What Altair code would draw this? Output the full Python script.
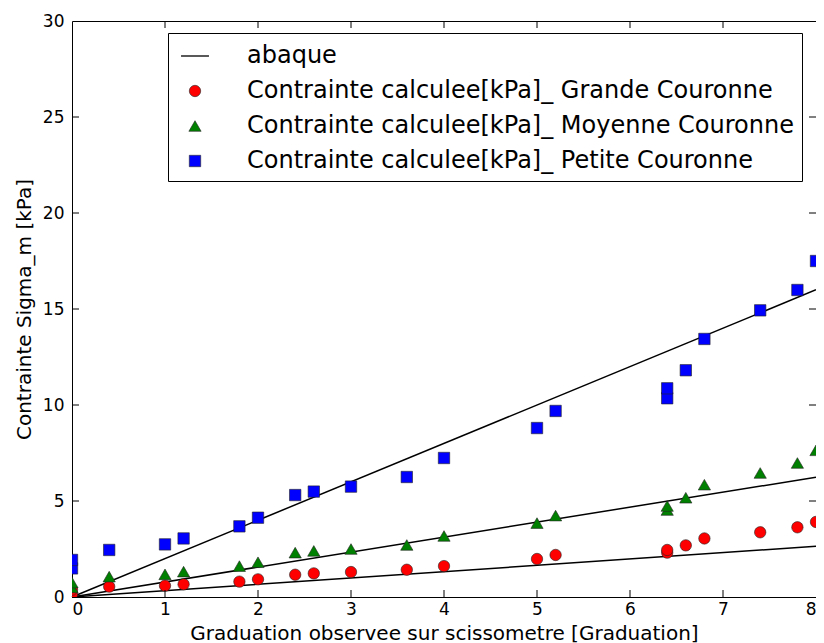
import altair as alt
import pandas as pd

# ---- data ----
x_grad = [0, 0, 0.4, 1, 1.2, 1.8, 2, 2.4, 2.6, 3, 3.6, 4, 5, 5.2, 6.4, 6.4, 6.6, 6.8, 7.4, 7.8, 8]
grande = [0.15, 0.38, 0.54, 0.59, 0.66, 0.80, 0.92, 1.16, 1.23, 1.30, 1.42, 1.61, 1.98, 2.19, 2.31, 2.45, 2.69, 3.05, 3.37, 3.63, 3.91]
moyenne = [0.50, 0.75, 1.06, 1.18, 1.32, 1.61, 1.81, 2.31, 2.40, 2.50, 2.71, 3.18, 3.85, 4.24, 4.53, 4.74, 5.17, 5.85, 6.46, 6.98, 7.64]
petite = [1.49, 1.93, 2.45, 2.74, 3.05, 3.68, 4.13, 5.31, 5.49, 5.75, 6.25, 7.24, 8.80, 9.69, 10.35, 10.87, 11.81, 13.44, 14.93, 15.99, 17.50]

abaque_x = [0, 8]
abaque_grande = [0, 2.64]
abaque_moyenne = [0, 6.24]
abaque_petite = [0, 16.0]

names = [
    "abaque",
    "Contrainte calculee[kPa]_ Grande Couronne",
    "Contrainte calculee[kPa]_ Moyenne Couronne",
    "Contrainte calculee[kPa]_ Petite Couronne",
]
colors = ["black", "#ff0000", "#008000", "#0000ff"]
shapes = ["stroke", "circle", "triangle-up", "square"]

x_ticks = [1, 2, 3, 4, 5, 6, 7]
y_ticks = [5, 10, 15, 20, 25]

# ---- tables ----
rows = []
for name, vals in zip(names[1:], [grande, moyenne, petite]):
    for xv, yv in zip(x_grad, vals):
        rows.append({"x": xv, "y": yv, "serie": name})
df_pts = pd.DataFrame(rows)

lrows = []
for k, vals in enumerate([abaque_grande, abaque_moyenne, abaque_petite]):
    for xv, yv in zip(abaque_x, vals):
        lrows.append({"x": xv, "y": yv, "ligne": k})
df_lines = pd.DataFrame(lrows)

W, H = 744, 576
FONT = "DejaVu Sans"

xscale = alt.Scale(domain=[0, 8], nice=False, zero=False)
yscale = alt.Scale(domain=[0, 30], nice=False)

xaxis = alt.Axis(values=[0, 1, 2, 3, 4, 5, 6, 7, 8], format="d", title="Graduation observee sur scissometre [Graduation]",
                 ticks=False, domain=False, grid=False, labelPadding=4, titlePadding=6,
                 labelFont=FONT, labelFontSize=17, labelColor="black",
                 titleFont=FONT, titleFontSize=20, titleFontWeight="normal", titleColor="black")
yaxis = alt.Axis(values=[0, 5, 10, 15, 20, 25, 30], format="d", title="Contrainte Sigma_m [kPa]",
                 ticks=False, domain=False, grid=False, labelPadding=8, titlePadding=8,
                 labelFont=FONT, labelFontSize=17, labelColor="black",
                 titleFont=FONT, titleFontSize=20, titleFontWeight="normal", titleColor="black")

lines = alt.Chart(df_lines).mark_line(color="black", strokeWidth=1.5).encode(
    x=alt.X("x:Q", scale=xscale, axis=xaxis),
    y=alt.Y("y:Q", scale=yscale, axis=yaxis),
    detail="ligne:N",
)

leg = alt.Legend(
    title=None, orient="none", legendX=96, legendY=12,
    labelFont=FONT, labelFontSize=24, labelColor="black", labelLimit=0,
    strokeColor="black", fillColor="white", padding=8, rowPadding=11,
    labelOffset=37, symbolOffset=4, cornerRadius=0,
)

pts = alt.Chart(df_pts).mark_point(filled=True, opacity=1, clip=True, stroke="#222222").encode(
    x=alt.X("x:Q", scale=xscale),
    y=alt.Y("y:Q", scale=yscale),
    color=alt.Color("serie:N", scale=alt.Scale(domain=names, range=colors), legend=leg),
    shape=alt.Shape("serie:N", scale=alt.Scale(domain=names, range=shapes), legend=leg),
    size=alt.Size("serie:N", scale=alt.Scale(type="ordinal", domain=names, range=[780, 130, 150, 130]), legend=leg),
    strokeWidth=alt.StrokeWidth("serie:N", scale=alt.Scale(type="ordinal", domain=names, range=[1.5, 0.6, 0.6, 0.6]), legend=leg),
)

tick_b = alt.Chart(pd.DataFrame({"x": x_ticks})).mark_rule(color="black").encode(
    x=alt.X("x:Q", scale=xscale), y=alt.value(H), y2=alt.value(H - 7))
tick_t = alt.Chart(pd.DataFrame({"x": x_ticks})).mark_rule(color="black").encode(
    x=alt.X("x:Q", scale=xscale), y=alt.value(0), y2=alt.value(7))
tick_l = alt.Chart(pd.DataFrame({"y": y_ticks})).mark_rule(color="black").encode(
    y=alt.Y("y:Q", scale=yscale), x=alt.value(0), x2=alt.value(7))
tick_r = alt.Chart(pd.DataFrame({"y": y_ticks})).mark_rule(color="black").encode(
    y=alt.Y("y:Q", scale=yscale), x=alt.value(W), x2=alt.value(W - 7))

chart = alt.layer(lines, pts, tick_b, tick_t, tick_l, tick_r).properties(
    width=W, height=H,
    background="white",
    autosize=alt.AutoSizeParams(type="none"),
    padding={"left": 64, "top": 13, "right": 0, "bottom": 48},
).configure_view(
    stroke="black", strokeWidth=1
)

chart.save("out.html", embed_options={"renderer": "svg", "actions": False})
